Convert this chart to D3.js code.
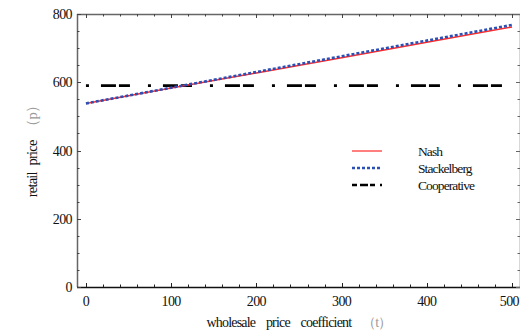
<!DOCTYPE html>
<html><head><meta charset="utf-8">
<script src="https://cdn.jsdelivr.net/npm/d3@7"></script>
<style>
body{margin:0;background:#fff;}
svg text{font-family:"Liberation Serif","Times New Roman",serif;}
</style></head>
<body><svg id="c" width="520" height="332"></svg>
<script>
const xValues = [0, 100, 200, 300, 400, 500];
const nashValues = [538, 583, 627, 672, 717, 762];
const stackelbergValues = [538, 584, 630, 676, 722, 768];
const cooperativeValues = [590, 590, 590, 590, 590, 590];
const xTickLabels = ["0", "100", "200", "300", "400", "500"];
const yTickLabels = ["0", "200", "400", "600", "800"];
const seriesNames = ["Nash", "Stackelberg", "Cooperative"];

const svg = d3.select("#c");
const x = d3.scaleLinear().domain([-10.5, 510.5]).range([77, 521]);
const y = d3.scaleLinear().domain([0, 800]).range([287, 14]);
const L = x.range()[0], R = x.range()[1], T = y.range()[1], B = y.range()[0];

// frame
const g = svg.append("g");
g.append("line").attr("x1",L).attr("x2",R).attr("y1",T+0.5).attr("y2",T+0.5).attr("stroke","#666").attr("stroke-width",1.5);
g.append("line").attr("x1",L+0.5).attr("x2",L+0.5).attr("y1",T).attr("y2",B).attr("stroke","#666").attr("stroke-width",1.5);
g.append("line").attr("x1",L).attr("x2",R).attr("y1",B+0.5).attr("y2",B+0.5).attr("stroke","#111").attr("stroke-width",1.5);
g.append("line").attr("x1",R-0.5).attr("x2",R-0.5).attr("y1",T).attr("y2",B).attr("stroke","#666").attr("stroke-width",1.5);

// ticks
const xMinor = d3.range(0, 501, 20);
const yMinor = d3.range(0, 801, 50);
xMinor.forEach(v => {
  const major = v % 100 === 0;
  const len = major ? 4 : 2.5;
  g.append("line").attr("x1",Math.round(x(v))+0.5).attr("x2",Math.round(x(v))+0.5).attr("y1",B).attr("y2",B-len).attr("stroke","#222");
  g.append("line").attr("x1",Math.round(x(v))+0.5).attr("x2",Math.round(x(v))+0.5).attr("y1",T).attr("y2",T+len).attr("stroke","#444");
});
yMinor.forEach(v => {
  const major = v % 200 === 0;
  const len = major ? 4 : 2.5;
  g.append("line").attr("x1",L).attr("x2",L+len).attr("y1",Math.round(y(v))+0.5).attr("y2",Math.round(y(v))+0.5).attr("stroke","#444");
  g.append("line").attr("x1",R).attr("x2",R-len-1).attr("y1",Math.round(y(v))+0.5).attr("y2",Math.round(y(v))+0.5).attr("stroke","#666");
});

// tick labels
xTickLabels.forEach((t,i) => {
  const last = i === xTickLabels.length - 1;
  svg.append("text").attr("x", last ? 519 : x(+t)).attr("y", 306).attr("text-anchor", last ? "end" : "middle")
    .attr("font-size",14).attr("letter-spacing",-0.6).attr("fill","#111").text(t);
});
yTickLabels.forEach(t => {
  svg.append("text").attr("x", 72).attr("y", y(+t)+5).attr("text-anchor","end")
    .attr("font-size",14).attr("letter-spacing",-0.6).attr("fill","#111").text(t);
});

// axis titles
const xt = svg.append("text").attr("x", 299).attr("y", 327).attr("text-anchor","middle")
  .attr("font-size",14).attr("letter-spacing",-0.8).attr("word-spacing",8).attr("fill","#111");
xt.append("tspan").text("wholesale price coefficient ");
xt.append("tspan").attr("fill","#999").text("（t）");
const yt = svg.append("text").attr("transform","translate(37,148) rotate(-90)").attr("text-anchor","middle")
  .attr("font-size",14.5).attr("letter-spacing",-0.8).attr("word-spacing",4).attr("fill","#111");
yt.append("tspan").text("retail price ");
yt.append("tspan").attr("fill","#999").text("（p）");

// lines
const line = d3.line().x(d => x(d[0])).y(d => y(d[1]));
const styles = [
  {color:"#ff2a2a", w:1.5, dash:null},
  {color:"#2c4fb5", w:2.6, dash:"3,2"},
  {color:"#000", w:2.6, dash:"3,12,15,3,11,18"}
];
const allSeries = [nashValues, stackelbergValues, cooperativeValues];
[2,0,1].forEach(i => {
  svg.append("path").datum(xValues.map((v,j)=>[v, allSeries[i][j]]))
    .attr("d", line).attr("fill","none").attr("stroke",styles[i].color)
    .attr("stroke-width",styles[i].w).attr("stroke-dasharray",styles[i].dash);
});

// legend
const legY = [151, 168, 185];
seriesNames.forEach((n,i) => {
  const s = styles[i];
  svg.append("line").attr("x1",352).attr("x2",382).attr("y1",legY[i]).attr("y2",legY[i])
    .attr("stroke",s.color).attr("stroke-width",s.w-0.3)
    .attr("stroke-dasharray", i===2 ? "5,3,8,2,5,5,2,20" : s.dash);
  svg.append("text").attr("x",418).attr("y",legY[i]+4.5).attr("font-size",13.5)
    .attr("letter-spacing",-0.9).attr("fill","#111").text(n);
});
</script></body></html>
